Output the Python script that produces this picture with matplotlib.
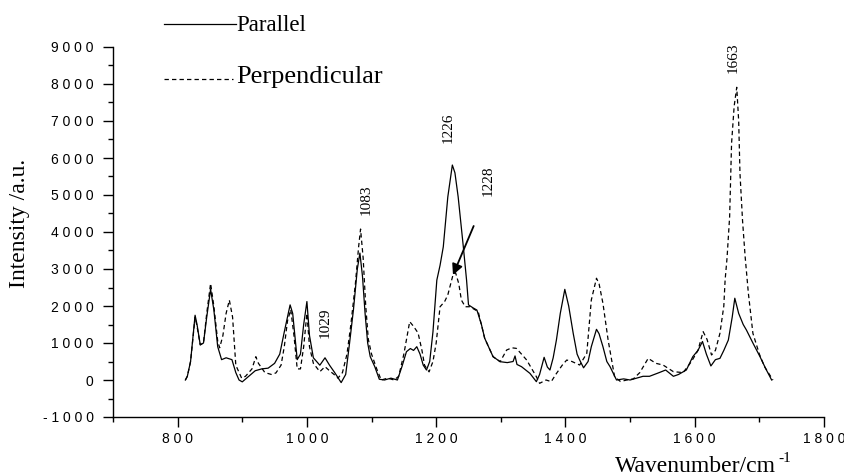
import matplotlib
matplotlib.use("Agg")
import matplotlib.pyplot as plt
from matplotlib.ticker import MultipleLocator, FuncFormatter
from matplotlib.lines import Line2D

# ---- data ----
par_x = [812, 815, 820, 827, 830, 835, 840, 845, 851, 856, 862, 868, 875, 884, 890, 895, 900,
         910, 920, 930, 940, 950, 958, 965, 974, 978, 985, 990, 995, 1000, 1004, 1010, 1020,
         1028, 1035, 1043, 1053, 1060, 1066, 1072, 1078, 1082, 1086, 1090, 1094, 1098, 1105,
         1112, 1120, 1130, 1140, 1147, 1154, 1160, 1165, 1170, 1175, 1180, 1185, 1190, 1195,
         1201, 1206, 1211, 1218, 1225, 1229, 1234, 1242, 1247, 1250, 1257, 1263, 1270, 1275,
         1288, 1299, 1310, 1319, 1322, 1325, 1332, 1345, 1355, 1360, 1367, 1372, 1376, 1381,
         1386, 1392, 1399, 1405, 1412, 1418, 1422, 1428, 1435, 1440, 1448, 1452, 1458, 1464,
         1469, 1479, 1490, 1500, 1510, 1520, 1530, 1545, 1555, 1567, 1575, 1587, 1597, 1605,
         1612, 1618, 1625, 1632, 1639, 1645, 1652, 1658, 1662, 1668, 1675, 1680, 1690, 1701,
         1710, 1719]
par_y = [0, 100, 500, 1750, 1500, 950, 1000, 1700, 2450, 1900, 900, 550, 600, 550, 200, 0, -50,
         100, 250, 300, 320, 450, 700, 1300, 2030, 1800, 550, 700, 1500, 2120, 1200, 600, 400,
         600, 400, 200, -70, 150, 1000, 1900, 3000, 3430, 2800, 1800, 1000, 630, 360,
         20, 0, 50, 0, 360, 765, 850, 800, 900, 700, 400, 270, 500, 1300,
         2700, 3100, 3600, 4950, 5810, 5600, 4950, 3600, 2700, 2030, 1950, 1890, 1500, 1130,
         630, 495, 470, 500, 650, 420, 360, 180, -45, 150, 613, 350, 270, 600,
         1080, 1800, 2450, 2000, 1260, 700, 540, 330, 500, 900, 1370, 1250, 900, 500,
         360, 0, 30, 0, 50, 100, 100, 200, 270, 100, 150, 270, 630, 800,
         1040, 700, 380, 550, 585, 800, 1080, 1700, 2210, 1800, 1500, 1350, 1000, 630,
         300, 0]

perp_x = [812, 815, 820, 827, 830, 835, 840, 845, 851, 856, 862, 865, 870, 875, 880, 885, 890,
          899, 905, 915, 921, 925, 935, 945, 952, 960, 965, 970, 975, 980, 985, 990, 995, 1000,
          1004, 1010, 1020, 1028, 1035, 1042, 1048, 1055, 1062, 1068, 1075, 1080, 1083, 1087,
          1091, 1095, 1100, 1108, 1115, 1125, 1135, 1142, 1150, 1159, 1165, 1172, 1178, 1182,
          1189, 1195, 1200, 1206, 1213, 1218, 1226, 1230, 1235, 1239, 1245, 1252, 1265, 1275,
          1288, 1299, 1309, 1317, 1324, 1332, 1340, 1348, 1355, 1360, 1370, 1378, 1385, 1395,
          1402, 1410, 1422, 1433, 1440, 1448, 1452, 1458, 1466, 1476, 1485, 1495, 1505, 1515,
          1528, 1540, 1551, 1567, 1582, 1595, 1605, 1613, 1619, 1626, 1632, 1639, 1645, 1647,
          1650, 1654, 1657, 1661, 1665, 1668, 1670, 1674, 1678, 1683, 1690, 1700, 1708, 1721]
perp_y = [0, 100, 500, 1700, 1450, 950, 1000, 1800, 2610, 2000, 1050, 870, 1200, 1800, 2160, 1700, 400,
          50, 100, 300, 630, 450, 200, 150, 190, 400, 900, 1600, 1900, 1200, 300, 300, 900, 1800,
          900, 450, 225, 360, 250, 150, 50, 200, 700, 1500, 2600, 3600, 4080, 3300,
          2000, 1100, 700, 300, 0, 50, 0, 100, 700, 1577, 1450, 1270, 800, 400,
          220, 500, 1000, 1980, 2117, 2300, 2840, 2900, 2600, 2160, 1980, 1980, 1850, 1130,
          630, 495, 810, 870, 855, 700, 540, 300, 90, -90, 0, -45, 150, 400,
          540, 500, 405, 720, 2162, 2750, 2600, 2072, 1081, 90, -40, 0, 30, 200,
          585, 450, 405, 225, 200, 500, 800, 1306, 1100, 676, 800, 1262, 2000, 2700,
          3300, 4414, 6397, 7400, 7911, 7000, 5586, 4300, 3333, 2343, 1262, 700, 360, 0]

series_names = ["Parallel", "Perpendicular"]
peak_labels = ["1029", "1083", "1226", "1228", "1663"]
peak_label_x = [1029, 1091, 1218, 1280, 1659]
peak_label_y = [1540, 4865, 6824, 5378, 8703]
arrow_tail = (1258, 4162)
arrow_head = (1226, 2838)

W, H = 845, 475
serif = ["Liberation Serif", "DejaVu Serif"]
sans = ["Liberation Sans", "DejaVu Sans"]

fig = plt.figure(figsize=(W / 100, H / 100), dpi=100)
ax = fig.add_axes([113 / W, 1 - 417 / H, (824 - 113) / W, (417 - 47) / H])

ax.plot(par_x, par_y, color="black", lw=0.9, ls="-")
ax.plot(perp_x, perp_y, color="black", lw=0.9, ls=(0, (3.5, 2.5)))

ax.set_xlim(700, 1800)
ax.set_ylim(-1000, 9000)
ax.xaxis.set_major_locator(MultipleLocator(200))
ax.xaxis.set_minor_locator(MultipleLocator(100))
ax.yaxis.set_major_locator(MultipleLocator(1000))
ax.yaxis.set_minor_locator(MultipleLocator(500))

spaced = FuncFormatter(lambda v, p: " ".join(str(int(round(v)))))
ax.xaxis.set_major_formatter(spaced)
ax.yaxis.set_major_formatter(spaced)

for s in ("top", "right"):
    ax.spines[s].set_visible(False)
for s in ("left", "bottom"):
    ax.spines[s].set_linewidth(1.0)

ax.tick_params(axis="both", which="major", direction="out", length=7.5, width=1.0)
ax.tick_params(axis="both", which="minor", direction="out", length=3.8, width=1.0)
ax.tick_params(axis="y", which="major", pad=6.5)
ax.tick_params(axis="x", which="major", pad=3.5)
for lab in ax.get_xticklabels() + ax.get_yticklabels():
    lab.set_family(sans)
    lab.set_fontsize(10)

# peak labels
for t, x, y in zip(peak_labels, peak_label_x, peak_label_y):
    ax.text(x, y, t, rotation=90, ha="center", va="center", family=serif, fontsize=11)

ax.annotate("", xy=arrow_head, xytext=arrow_tail,
            arrowprops=dict(arrowstyle="-|>", color="black", lw=1.3, mutation_scale=16,
                            shrinkA=0, shrinkB=0))

# legend drawn manually
fig.add_artist(Line2D([164 / W, 236 / W], [1 - 24 / H, 1 - 24 / H], color="black", lw=0.9))
fig.text(236 / W, 1 - 31 / H, series_names[0], family=serif, fontsize=16.5, ha="left", va="baseline")
fig.add_artist(Line2D([164 / W, 233 / W], [1 - 79 / H, 1 - 79 / H], color="black", lw=0.9,
                      ls=(0, (3.5, 2.5))))
fig.text(236 / W, 1 - 83 / H, series_names[1], family=serif, fontsize=19, ha="left", va="baseline")

# axis titles
fig.text(20 / W, 1 - 223 / H, "Intensity /a.u.", rotation=90, family=serif, fontsize=17,
         ha="center", va="center")
fig.text(615 / W, 1 - 471.5 / H, "Wavenumber/cm", family=serif, fontsize=17, ha="left", va="baseline")
fig.text(778 / W, 1 - 462 / H, "-1", family=serif, fontsize=11, ha="left", va="baseline")

fig.savefig("out.png", dpi=100)
